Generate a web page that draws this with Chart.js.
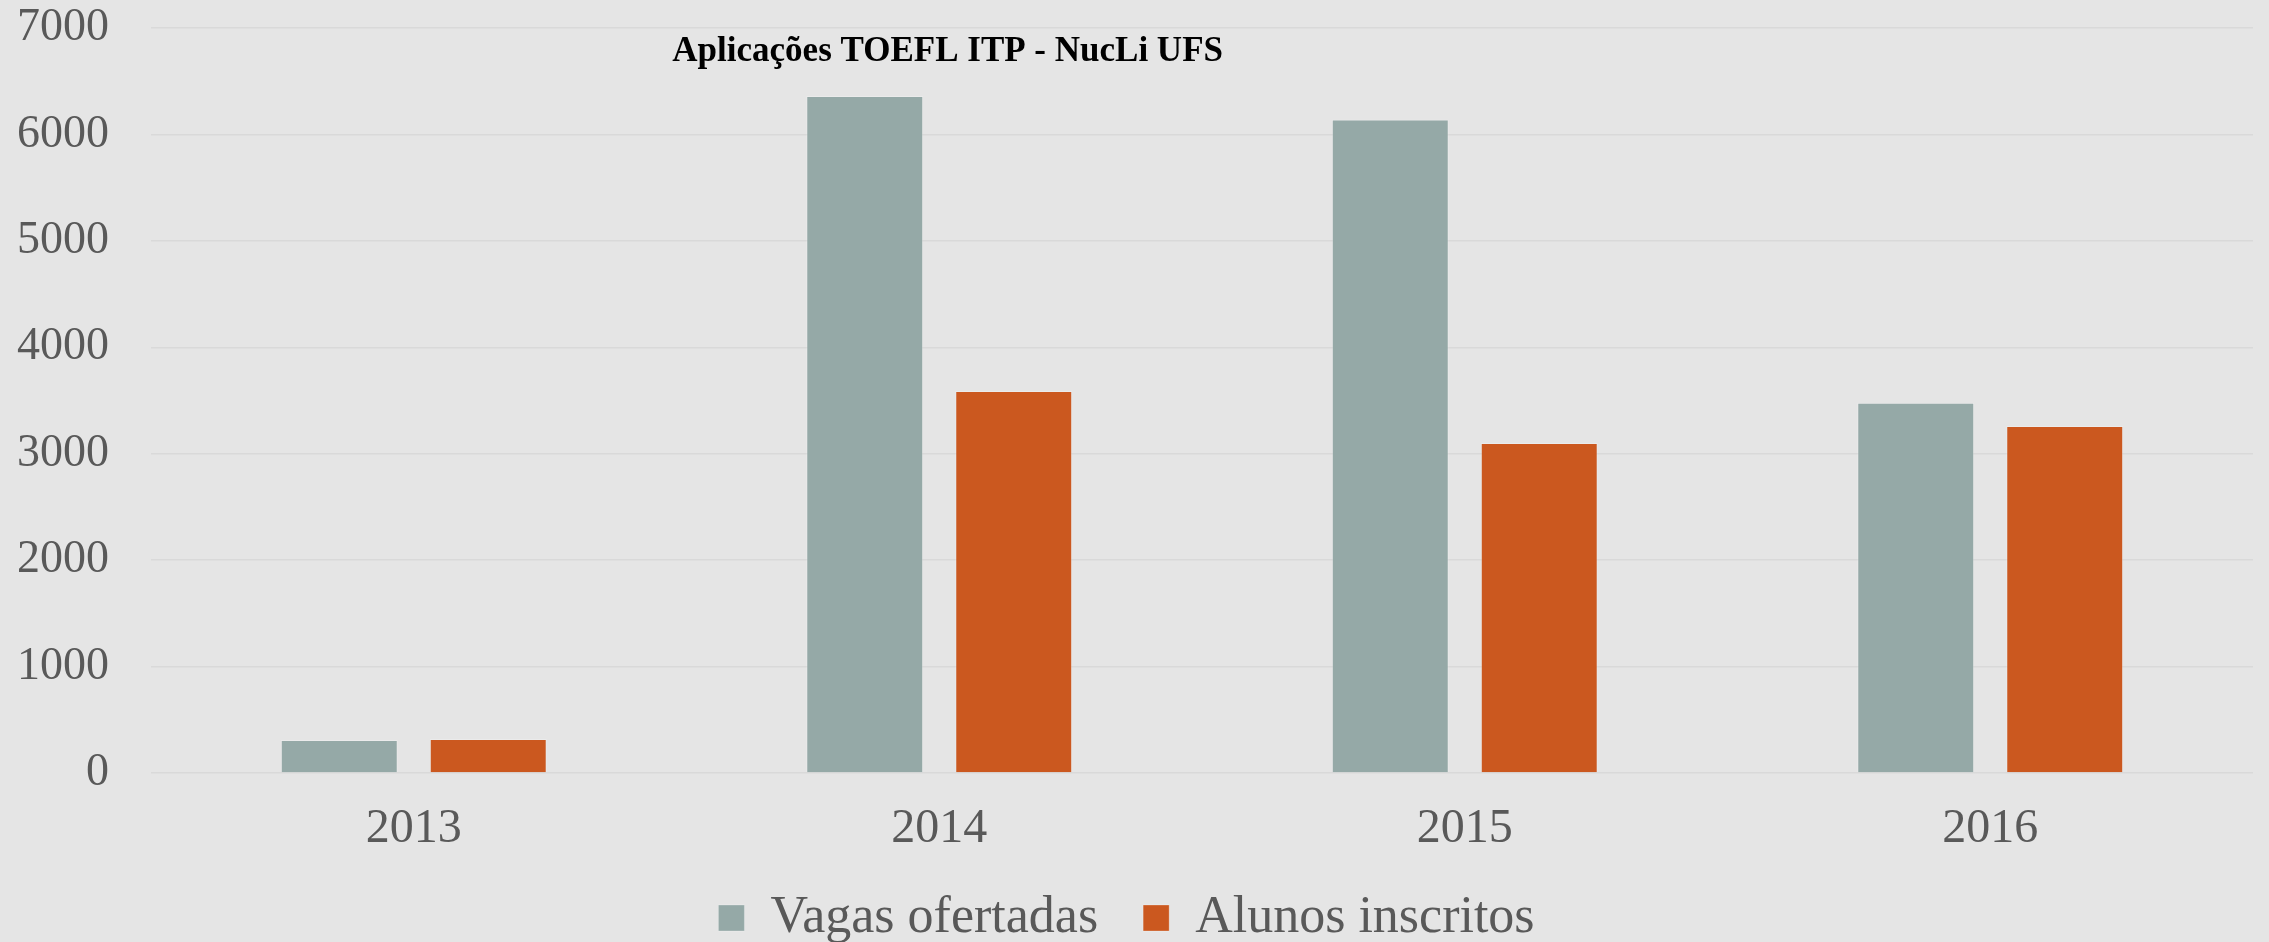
<!DOCTYPE html>
<html>
<head>
<meta charset="utf-8">
<script src="https://cdn.jsdelivr.net/npm/chart.js@4.4.1/dist/chart.umd.min.js"></script>
<style>
  html, body { margin:0; padding:0; background:#E5E5E5; }
  #wrap { width:2269px; height:942px; position:relative; }
</style>
</head>
<body>
<div id="wrap"><canvas id="c"></canvas></div>
<script>
// Aplicações TOEFL ITP - NucLi UFS
const years = ['2013', '2014', '2015', '2016'];
const vagasOfertadas = [310, 6360, 6140, 3480];
const alunosInscritos = [320, 3590, 3100, 3260];
const yTicks = [0, 1000, 2000, 3000, 4000, 5000, 6000, 7000];

const FONT = "'Liberation Serif', 'DejaVu Serif', serif";
const TXT = '#595959';

// title sits inside the plot, left of centre
const titlePlugin = {
  id: 'innerTitle',
  afterDraw(chart) {
    const { ctx, chartArea } = chart;
    ctx.save();
    ctx.font = 'bold 35px ' + FONT;
    ctx.fillStyle = '#000';
    ctx.textAlign = 'center';
    ctx.textBaseline = 'middle';
    ctx.fillText('Aplicações TOEFL ITP - NucLi UFS',
      chartArea.left + chartArea.width * 0.379, chartArea.top + 24);
    ctx.restore();
  }
};

new Chart(document.getElementById('c'), {
  type: 'bar',
  data: {
    labels: years,
    datasets: [
      { label: 'Vagas ofertadas', data: vagasOfertadas, backgroundColor: '#95A9A7',
        borderColor: 'rgba(255,255,255,0.25)', borderWidth: 1 },
      { label: 'Alunos inscritos', data: alunosInscritos, backgroundColor: '#CB581F',
        borderColor: 'rgba(255,255,255,0.25)', borderWidth: 1 }
    ]
  },
  options: {
    responsive: true,
    maintainAspectRatio: false,
    animation: false,
    layout: { padding: { top: 28, right: 16, left: 0, bottom: -12 } },
    datasets: { bar: { categoryPercentage: 0.567, barPercentage: 0.785 } },
    plugins: {
      title: { display: false },
      tooltip: { enabled: false },
      legend: {
        display: true,
        position: 'bottom',
        labels: {
          font: { family: FONT, size: 52 },
          color: TXT,
          boxWidth: 26,
          boxHeight: 26,
          padding: 45
        }
      }
    },
    scales: {
      x: {
        grid: { display: false, drawTicks: false },
        border: { display: false },
        ticks: { font: { family: FONT, size: 48 }, color: TXT, padding: 28 },
        afterFit(s) { s.height = 74; }
      },
      y: {
        min: 0,
        max: 7000,
        afterBuildTicks(s) { s.ticks = yTicks.map(v => ({ value: v })); },
        grid: { color: '#D9D9D9', lineWidth: 1.5, drawTicks: false },
        border: { display: false },
        ticks: { font: { family: FONT, size: 46 }, color: TXT, padding: 42,
          callback: v => String(v) },
        afterFit(s) { s.width = 151; s.paddingTop = 0; s.paddingBottom = 0; }
      }
    }
  },
  plugins: [titlePlugin]
});
</script>
</body>
</html>
